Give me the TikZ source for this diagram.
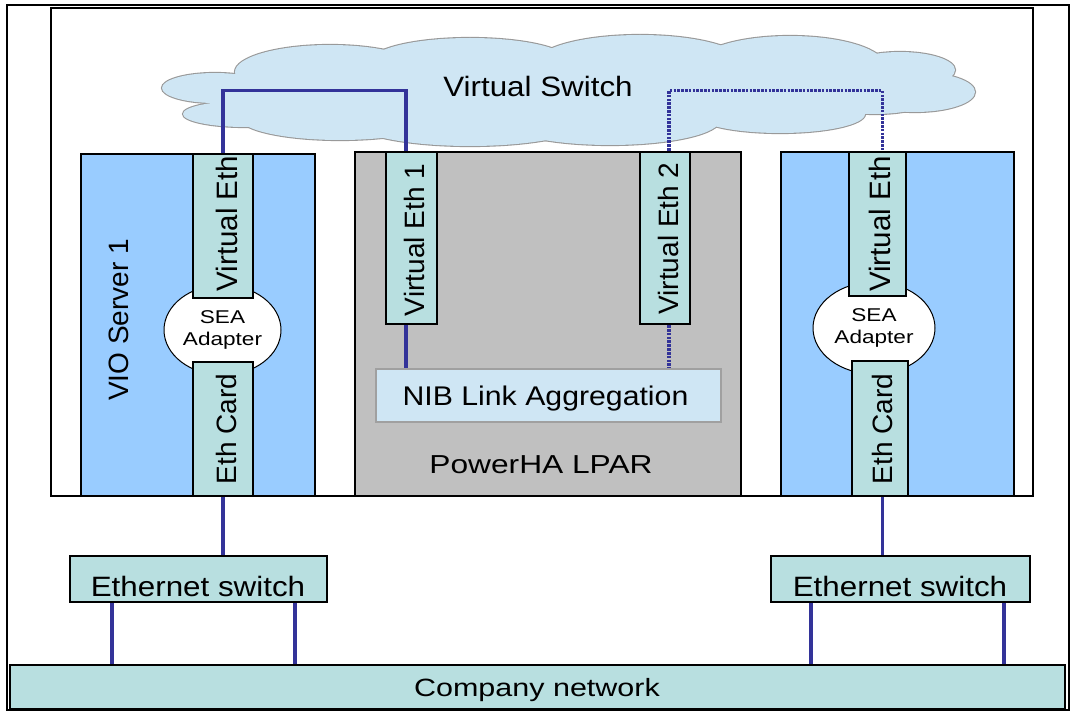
\documentclass[tikz,border=0pt]{standalone}
\usepackage{fontspec}
\setmainfont{Liberation Sans}
\newfontfamily\fA[FakeStretch=1.12]{Liberation Sans}
\newfontfamily\fB[FakeStretch=1.22]{Liberation Sans}
\usetikzlibrary{shapes.geometric,calc}
\definecolor{vioblue}{HTML}{99CCFF}
\definecolor{cardfill}{HTML}{B8DFE0}
\definecolor{lpargray}{HTML}{C0C0C0}
\definecolor{cloudfill}{HTML}{CFE6F4}
\definecolor{cloudline}{HTML}{999999}
\definecolor{nibline}{HTML}{A0A0A0}
\definecolor{wire}{HTML}{333399}
\begin{document}
\begin{tikzpicture}[x=1pt,y=-1pt,
  box/.style={draw=black, line width=2.6pt, inner sep=0pt, rectangle},
  server/.style={box, fill=vioblue},
  lpar/.style={box, fill=lpargray},
  card/.style={box, fill=cardfill},
  sea/.style={ellipse, draw=black, line width=1pt, fill=white, inner sep=0pt, align=center,
              font=\fB\fontsize{18.5}{22}\selectfont},
  vlbl/.style={rotate=90, inner sep=0pt, font=\fontsize{28}{34}\selectfont},
  lblA/.style={anchor=base, inner sep=0pt, font=\fA\fontsize{28}{34}\selectfont},
  lblB/.style={anchor=base, inner sep=0pt, font=\fB\fontsize{26}{32}\selectfont},
  wire/.style={draw=wire, line width=3.6pt},
  wiredot/.style={draw=wire, line width=3.6pt, dash pattern=on 2.6pt off 1.2pt},
]
\useasboundingbox (0,0) rectangle (1071,711);

% frames
\node[draw=black, line width=1.3pt, inner sep=0pt, minimum width=1062, minimum height=705] (outer) at (538,357.5) {};
\node[draw=black, line width=2.6pt, inner sep=0pt, minimum width=982, minimum height=488] (frame) at (542,252) {};

% cloud
\foreach \cx/\cy/\rx/\ry in {215/88/53/15, 245/114/62/13, 330/72/95/27, 470/62/100/24,
    640/64/105/29, 790/66/95/30, 900/70/55/18, 915/92/60/20, 780/114/85/19,
    470/120/120/26, 340/118/100/22, 610/120/110/25, 560/90/300/40, 275/100/45/15, 875/102/50/12}
  \draw[cloudline, line width=2.2pt] (\cx,\cy) ellipse [x radius=\rx, y radius=\ry];
\foreach \cx/\cy/\rx/\ry in {215/88/53/15, 245/114/62/13, 330/72/95/27, 470/62/100/24,
    640/64/105/29, 790/66/95/30, 900/70/55/18, 915/92/60/20, 780/114/85/19,
    470/120/120/26, 340/118/100/22, 610/120/110/25, 560/90/300/40, 275/100/45/15, 875/102/50/12}
  \fill[cloudfill] (\cx,\cy) ellipse [x radius=\rx, y radius=\ry];
\node[lblA] (vswitch) at (538,97) {Virtual Switch};

% VIO server 1
\node[server, minimum width=234, minimum height=342] (vio1) at (198,325) {};
\node[sea, minimum width=117, minimum height=90] (seaL) at (222.5,330) {SEA\\Adapter};
\node[card, minimum width=60, minimum height=144] (veL) at (223,226) {};
\node[card, minimum width=60, minimum height=134] (ecL) at (223,429) {};
\node[vlbl, font=\fontsize{29.5}{34}\selectfont] (veLt) at (226.5,223.5) {Virtual Eth};
\node[vlbl] (ecLt) at (226.5,429) {Eth Card};
\node[vlbl] (vio1t) at (118.5,320) {VIO Server 1};

% PowerHA LPAR
\node[lpar, minimum width=386, minimum height=344] (lpar) at (548,324) {};
\node[card, minimum width=51, minimum height=172] (ve1) at (411.5,238) {};
\node[card, minimum width=50, minimum height=172] (ve2) at (665,238) {};
\node[vlbl] (ve1t) at (414,240) {Virtual Eth 1};
\node[vlbl] (ve2t) at (668,238.5) {Virtual Eth 2};
\node[draw=nibline, line width=1.2pt, fill=cloudfill, inner sep=0pt, minimum width=345, minimum height=53] (nib) at (548.5,395.5) {};
\node[lblA, font=\fA\fontsize{27}{32}\selectfont] (nibt) at (545.5,405.7) {NIB Link Aggregation};
\node[lblB] (lpart) at (541,473.3) {PowerHA LPAR};

% VIO server 2
\node[server, minimum width=233, minimum height=344] (vio2) at (897.5,324) {};
\node[sea, minimum width=122, minimum height=92] (seaR) at (874,328) {SEA\\Adapter};
\node[card, minimum width=57, minimum height=144] (veR) at (877.5,224) {};
\node[card, minimum width=56, minimum height=135] (ecR) at (880,428.5) {};
\node[vlbl, font=\fontsize{29.5}{34}\selectfont] (veRt) at (880,224) {Virtual Eth};
\node[vlbl] (ecRt) at (882.5,429) {Eth Card};

% switches and network
\node[card, minimum width=257, minimum height=46] (swL) at (198.5,579) {};
\node[card, minimum width=259, minimum height=46] (swR) at (900.5,579) {};
\node[card, minimum width=1055, minimum height=44] (net) at (537.5,687) {};
\node[lblA] (swLt) at (198,596.7) {Ethernet switch};
\node[lblA] (swRt) at (900,596.7) {Ethernet switch};
\node[lblB, font=\fB\fontsize{25}{30}\selectfont] (nett) at (537,696.7) {Company network};

% connectors
\draw[wire] (veL.north) -- ++(0,-62) -| ([xshift=-5.5pt]ve1.north);
\coordinate (w1) at ([xshift=-5.5pt]ve1.south);
\draw[wire] (w1) -- (w1 |- nib.north);
\coordinate (w2t) at ([xshift=4pt]ve2.north);
\draw[wiredot] (w2t) -- ++(0,-60) -| ([xshift=5pt]veR.north);
\coordinate (w2b) at ([xshift=4pt]ve2.south);
\draw[wiredot] (w2b) -- (w2b |- nib.north);

\draw[wire] (ecL.south) -- (ecL.south |- swL.north);
\coordinate (er) at ([xshift=2.5pt]ecR.south);
\draw[wire] (er) -- (er |- swR.north);

\coordinate (a1) at ([xshift=-86.5pt]swL.south);
\coordinate (a2) at ([xshift=96.5pt]swL.south);
\coordinate (a3) at ([xshift=-89.5pt]swR.south);
\coordinate (a4) at ([xshift=103.5pt]swR.south);
\foreach \p in {a1,a2,a3,a4}
  \draw[wire, line width=3.2pt] (\p) -- (\p |- net.north);
\end{tikzpicture}
\end{document}
